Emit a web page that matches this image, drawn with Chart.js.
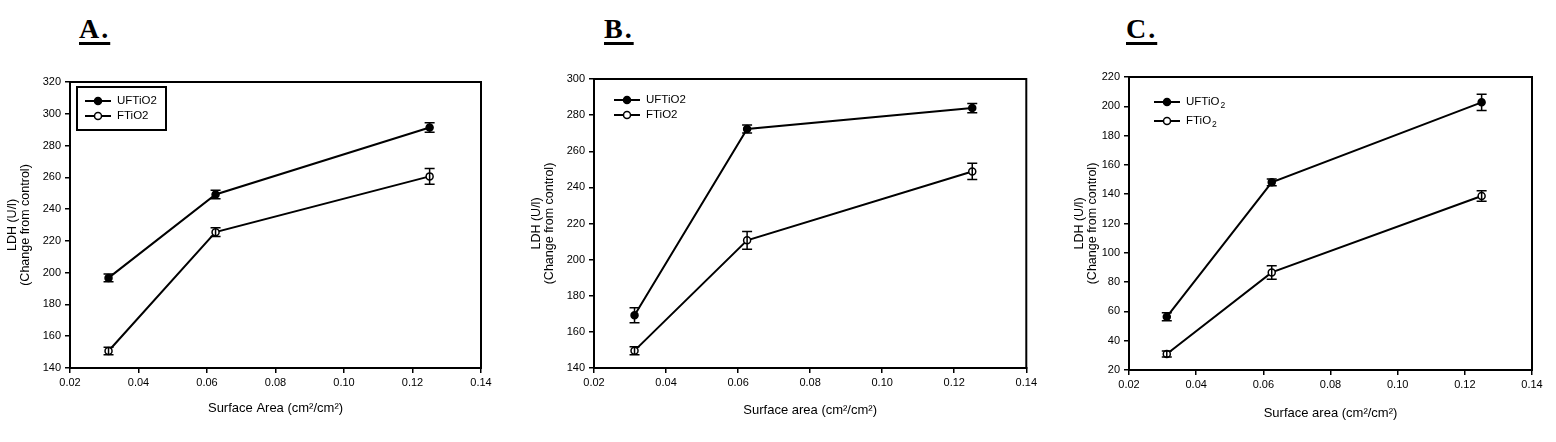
<!DOCTYPE html>
<html>
<head>
<meta charset="utf-8">
<script src="https://cdn.jsdelivr.net/npm/chart.js@4.4.1/dist/chart.umd.min.js"></script>
<style>
body { margin: 0; background: #fff; }
#wrap { position: relative; width: 1556px; height: 442px; overflow: hidden; background: #fff; }
.panel { position: absolute; top: 0; }
.tag {
    position: absolute; top: 15px;
    font-family: 'Liberation Serif', 'Times New Roman', serif;
    font-weight: bold; font-size: 28px; line-height: 28px; letter-spacing: 2px;
    text-decoration: underline; text-decoration-thickness: 3px; text-underline-offset: 4px;
    color: #000;
}
</style>
</head>
<body>
<div id="wrap">
    <div class="tag" style="left:79px">A.</div>
    <div class="tag" style="left:604px">B.</div>
    <div class="tag" style="left:1126px">C.</div>
    <canvas id="chartA" class="panel" style="left:0px" width="520" height="442"></canvas>
    <canvas id="chartB" class="panel" style="left:520px" width="520" height="442"></canvas>
    <canvas id="chartC" class="panel" style="left:1040px" width="516" height="442"></canvas>
</div>
<script>
// === Datos ===
const surface = [0.03125, 0.0625, 0.125];
const xTicks = [0.02, 0.04, 0.06, 0.08, 0.10, 0.12, 0.14];
const seriesNames = ['UFTiO2', 'FTiO2'];

// Panel A
const ufA = [196.7, 249.2, 291.4];
const ufErrA = [2.4, 2.7, 3.0];
const fA = [150.7, 225.5, 260.6];
const fErrA = [2.3, 2.8, 5.0];
const yTicksA = [140, 160, 180, 200, 220, 240, 260, 280, 300, 320];

// Panel B
const ufB = [169.2, 272.3, 283.9];
const ufErrB = [4.1, 2.2, 2.6];
const fB = [149.6, 210.7, 248.8];
const fErrB = [2.2, 4.9, 4.5];
const yTicksB = [140, 160, 180, 200, 220, 240, 260, 280, 300];

// Panel C
const ufC = [56.3, 148.1, 202.7];
const ufErrC = [2.7, 2.3, 5.5];
const fC = [30.9, 86.6, 138.8];
const fErrC = [2.0, 4.6, 3.6];
const yTicksC = [20, 40, 60, 80, 100, 120, 140, 160, 180, 200, 220];

const FONT = "'Liberation Sans', Arial, sans-serif";

// === Error bars, marco superior/derecho y leyenda ===
const extras = {
    id: 'extras',
    afterDatasetsDraw(chart, args, opts) {
        const ctx = chart.ctx;
        const xs = chart.scales.x, ys = chart.scales.y;
        const a = chart.chartArea;
        ctx.save();
        ctx.strokeStyle = '#000';
        ctx.lineWidth = 1.5;
        chart.data.datasets.forEach(ds => {
            ds.data.forEach((p, i) => {
                const e = ds.errors[i];
                const x = xs.getPixelForValue(p.x);
                const y1 = ys.getPixelForValue(p.y + e);
                const y2 = ys.getPixelForValue(p.y - e);
                ctx.beginPath();
                ctx.moveTo(x, y1); ctx.lineTo(x, y2);
                ctx.moveTo(x - 5, y1); ctx.lineTo(x + 5, y1);
                ctx.moveTo(x - 5, y2); ctx.lineTo(x + 5, y2);
                ctx.stroke();
            });
        });

        ctx.lineWidth = 2;
        ctx.beginPath();
        ctx.moveTo(a.left - 1, a.top);
        ctx.lineTo(a.right, a.top);
        ctx.lineTo(a.right, a.bottom + 1);
        ctx.stroke();

        // leyenda
        const lg = opts.legend;
        if (lg.box) {
            ctx.strokeRect(a.left + lg.box[0], a.top + lg.box[1], lg.box[2], lg.box[3]);
        }
        chart.data.datasets.forEach((ds, i) => {
            const y = a.top + lg.rows[i];
            const x0 = a.left + lg.x;
            ctx.lineWidth = 2;
            ctx.beginPath();
            ctx.moveTo(x0, y); ctx.lineTo(x0 + 26, y);
            ctx.stroke();
            ctx.beginPath();
            ctx.arc(x0 + 13, y, 3.5, 0, Math.PI * 2);
            ctx.fillStyle = ds.pointBackgroundColor;
            ctx.fill();
            ctx.lineWidth = 1.5;
            ctx.stroke();
            ctx.fillStyle = '#000';
            ctx.textBaseline = 'middle';
            ctx.textAlign = 'left';
            ctx.font = lg.size + 'px ' + FONT;
            const tx = x0 + 32;
            if (lg.sub) {
                const main = ds.label.slice(0, -1);
                ctx.fillText(main, tx, y);
                const w = ctx.measureText(main).width;
                ctx.font = (lg.size - 3) + 'px ' + FONT;
                ctx.fillText(ds.label.slice(-1), tx + w + 1, y + 4);
            } else {
                ctx.fillText(ds.label, tx, y);
            }
        });
        ctx.restore();
    }
};

function crearGrafica(id, uf, ufErr, f, fErr, yTicks, xTitle, lay) {
    return new Chart(document.getElementById(id), {
        type: 'line',
        data: {
            datasets: [
                {
                    label: seriesNames[0],
                    data: surface.map((x, i) => ({ x: x, y: uf[i] })),
                    errors: ufErr,
                    borderColor: '#000', borderWidth: 2,
                    pointRadius: 3.5, pointBorderWidth: 1.5,
                    pointBackgroundColor: '#000', pointBorderColor: '#000'
                },
                {
                    label: seriesNames[1],
                    data: surface.map((x, i) => ({ x: x, y: f[i] })),
                    errors: fErr,
                    borderColor: '#000', borderWidth: 2,
                    pointRadius: 3.5, pointBorderWidth: 1.5,
                    pointBackgroundColor: '#fff', pointBorderColor: '#000'
                }
            ]
        },
        options: {
            responsive: false,
            animation: false,
            layout: { padding: { top: lay.top, right: lay.right, bottom: 0, left: 0 } },
            scales: {
                x: {
                    type: 'linear',
                    min: xTicks[0], max: xTicks[xTicks.length - 1],
                    afterBuildTicks: s => { s.ticks = xTicks.map(v => ({ value: v })); },
                    afterFit: s => { s.height = lay.xH; },
                    ticks: {
                        color: '#000', padding: 3, maxRotation: 0,
                        font: { family: FONT, size: 11 },
                        callback: v => v.toFixed(2)
                    },
                    grid: { drawOnChartArea: false, drawTicks: true, tickLength: 5, color: '#000', lineWidth: 1.5 },
                    border: { color: '#000', width: 2 },
                    title: {
                        display: true, text: xTitle, color: '#000',
                        font: { family: FONT, size: 13 },
                        padding: { top: 0, bottom: lay.xPad }
                    }
                },
                y: {
                    min: yTicks[0], max: yTicks[yTicks.length - 1],
                    afterBuildTicks: s => { s.ticks = yTicks.map(v => ({ value: v })); },
                    afterFit: s => { s.width = lay.yW; },
                    ticks: {
                        color: '#000', padding: 4,
                        font: { family: FONT, size: 11 },
                        callback: v => String(v)
                    },
                    grid: { drawOnChartArea: false, drawTicks: true, tickLength: 5, color: '#000', lineWidth: 1.5 },
                    border: { color: '#000', width: 2 },
                    title: {
                        display: true, text: ['LDH (U/l)', '(Change from control)'], color: '#000',
                        font: { family: FONT, size: 12.5, lineHeight: 1.05 },
                        padding: { top: lay.yPad, bottom: 0 }
                    }
                }
            },
            plugins: {
                legend: { display: false },
                tooltip: { enabled: false },
                extras: { legend: lay.legend }
            }
        },
        plugins: [extras]
    });
}

crearGrafica('chartA', ufA, ufErrA, fA, fErrA, yTicksA, 'Surface Area (cm\u00b2/cm\u00b2)', {
    top: 82, right: 39, xH: 74, yW: 70, xPad: 26, yPad: 6,
    legend: { x: 15, rows: [19, 34], size: 11.5, box: [7, 5, 89, 43], sub: false }
});
crearGrafica('chartB', ufB, ufErrB, fB, fErrB, yTicksB, 'Surface area (cm\u00b2/cm\u00b2)', {
    top: 79, right: 13, xH: 74, yW: 74, xPad: 24, yPad: 10,
    legend: { x: 20, rows: [21, 36], size: 11.5, box: null, sub: false }
});
crearGrafica('chartC', ufC, ufErrC, fC, fErrC, yTicksC, 'Surface area (cm\u00b2/cm\u00b2)', {
    top: 77, right: 24, xH: 72, yW: 89, xPad: 21, yPad: 33,
    legend: { x: 25, rows: [25, 44], size: 11.5, box: null, sub: true }
});
</script>
</body>
</html>
